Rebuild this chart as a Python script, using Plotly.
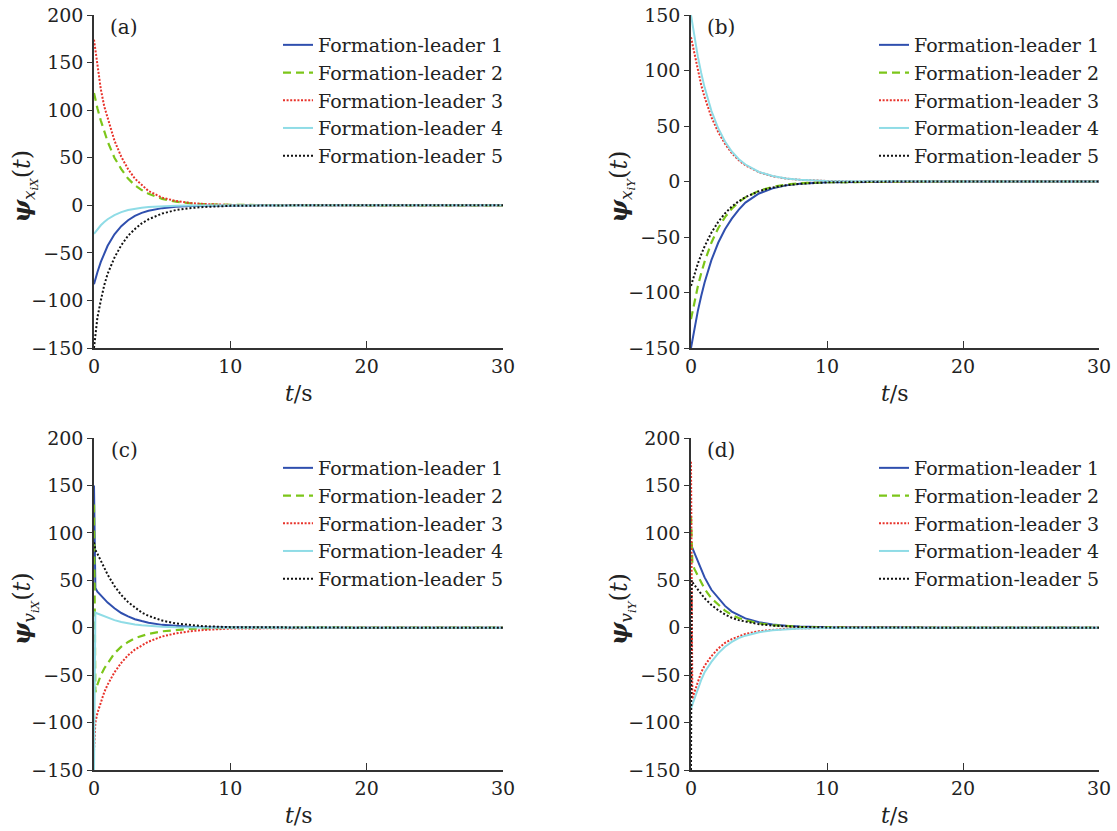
import plotly.graph_objects as go

# ---------------- data ----------------
T_AB = [0, 0.1, 0.25, 0.5, 0.75, 1, 1.5, 2, 2.5, 3, 3.5, 4, 5, 6, 7, 8, 10, 15, 20, 30]
T_CD = [0, 0.05, 0.1, 0.25, 0.5, 0.75, 1, 1.5, 2, 2.5, 3, 3.5, 4, 5, 6, 7, 8, 10, 15, 20, 30]

NAMES = ["Formation-leader 1", "Formation-leader 2", "Formation-leader 3",
         "Formation-leader 4", "Formation-leader 5"]

# panel (a): psi_x_iX
a_l1 = [-83, -77.6, -70.3, -59.5, -50.3, -42.6, -30.5, -21.9, -15.7, -11.2, -8, -5.8, -3, -1.5, -0.8, -0.4, -0.1, 0, 0, 0]
a_l2 = [118, 111, 102, 89, 77, 67, 50, 38, 28, 21, 16, 12, 6.8, 3.8, 2.2, 1.2, 0.4, 0, 0, 0]
a_l3 = [174, 163, 150, 122, 104, 92, 68, 51, 38, 28, 21, 15, 8, 4.5, 2.5, 1.4, 0.4, 0, 0, 0]
a_l4 = [-30, -28, -25, -21, -17.6, -14.7, -10.3, -7.2, -5, -3.5, -2.5, -1.7, -0.8, -0.4, -0.2, -0.1, 0, 0, 0, 0]
a_l5 = [-150, -135, -118, -100, -84, -72, -55, -42, -32, -25, -19, -14.7, -8.7, -5, -3, -1.8, -0.6, 0, 0, 0]

# panel (b): psi_x_iY
b_l1 = [-150, -142.7, -132.4, -116.8, -103.1, -91, -70.9, -55.2, -43, -33.5, -25.5, -19, -10.8, -6.2, -3.5, -2, -0.6, 0, 0, 0]
b_l2 = [-124, -117.5, -108.3, -94.6, -82.6, -72.2, -55.1, -42.1, -32.1, -24.5, -18.7, -14.3, -8.3, -4.9, -2.8, -1.6, -0.6, 0, 0, 0]
b_l3 = [130, 124, 115, 100, 87, 76, 58, 44.5, 34, 25.5, 19.3, 14.6, 8.3, 4.7, 2.6, 1.5, 0.5, 0, 0, 0]
b_l4 = [150, 141.7, 130, 112.7, 97.7, 84.8, 63.7, 47.9, 36, 27, 20.3, 15.3, 8.6, 4.9, 2.7, 1.5, 0.5, 0, 0, 0]
b_l5 = [-94, -89.6, -83.4, -74.1, -65.8, -58.4, -46.1, -36.4, -28.7, -22.6, -17.9, -14.1, -8.7, -5.4, -3.4, -2.1, -0.8, 0, 0, 0]

# panel (c): psi_v_iX
c_l1 = [150, 60, 42, 38, 34, 30, 26.5, 20.5, 15.5, 12, 9, 7, 5.2, 3, 1.7, 1, 0.6, 0.2, 0, 0, 0]
c_l2 = [130, -40, -68, -60, -50, -43, -38, -27, -20, -15, -11, -8.5, -6.5, -3.8, -2.2, -1.3, -0.8, -0.2, 0, 0, 0]
c_l3 = [-130, -115, -100, -90, -78, -68, -60, -47, -37, -29, -23, -18.5, -14.7, -9.2, -6, -3.8, -2.4, -0.9, -0.1, 0, 0]
c_l4 = [-150, 16, 16, 15, 13.5, 12, 10.5, 8, 6, 4.5, 3.3, 2.5, 1.9, 1.1, 0.6, 0.3, 0.2, 0, 0, 0, 0]
c_l5 = [90, 85, 82, 78, 71, 63, 56, 44, 34.5, 27, 21, 16, 12.5, 7.5, 4.5, 2.7, 1.6, 0.6, 0, 0, 0]

# panel (d): psi_v_iY
d_l1 = [87, 86, 84, 79, 70, 61, 53, 40, 31, 23, 17, 13, 9.8, 5.7, 3.4, 2, 1.2, 0.4, 0, 0, 0]
d_l2 = [118, 80, 68, 62, 55, 47, 41, 31, 24, 18, 13.5, 10.3, 8, 4.6, 2.7, 1.6, 0.9, 0.3, 0, 0, 0]
d_l3 = [175, -60, -75, -68, -58, -47, -40, -30, -22, -16, -12, -9, -6.5, -3.6, -2, -1.1, -0.6, -0.2, 0, 0, 0]
d_l4 = [-85, -83, -80, -74, -64, -55, -47, -36, -27, -20, -15, -11, -8.4, -4.8, -2.8, -1.6, -0.9, -0.3, 0, 0, 0]
d_l5 = [-150, 50, 48, 45, 40, 35, 31, 24, 18.5, 14, 10.5, 8, 6.3, 3.7, 2.2, 1.3, 0.8, 0.3, 0, 0, 0]

X_TICKS = [0, 10, 20, 30]
Y_TICKS_ACD = [-150, -100, -50, 0, 50, 100, 150, 200]
Y_TICKS_B = [-150, -100, -50, 0, 50, 100, 150]

# ---------------- styling ----------------
W, H = 1117, 831
FONT = "DejaVu Serif"
STYLES = [
    dict(color="#2f4fae", width=2, dash="solid"),
    dict(color="#7cc61a", width=2.2, dash="8px,5px"),
    dict(color="#e8332b", width=2, dash="2px,1.6px"),
    dict(color="#8fdce6", width=2, dash="solid"),
    dict(color="#111111", width=2, dash="2px,2px"),
]

panels = [
    dict(t=T_AB, ys=[a_l1, a_l2, a_l3, a_l4, a_l5], xd=(94, 503), yd=(15, 348),
         yr=(-150, 200), yt=Y_TICKS_ACD, lab="(a)", sub="x", comp="X"),
    dict(t=T_AB, ys=[b_l1, b_l2, b_l3, b_l4, b_l5], xd=(691, 1099), yd=(15, 348),
         yr=(-150, 150), yt=Y_TICKS_B, lab="(b)", sub="x", comp="Y"),
    dict(t=T_CD, ys=[c_l1, c_l2, c_l3, c_l4, c_l5], xd=(94, 503), yd=(438, 770),
         yr=(-150, 200), yt=Y_TICKS_ACD, lab="(c)", sub="v", comp="X"),
    dict(t=T_CD, ys=[d_l1, d_l2, d_l3, d_l4, d_l5], xd=(691, 1099), yd=(438, 770),
         yr=(-150, 200), yt=Y_TICKS_ACD, lab="(d)", sub="v", comp="Y"),
]

fig = go.Figure()
annotations = []
layout = dict(width=W, height=H, margin=dict(l=0, r=0, t=0, b=0),
              paper_bgcolor="white", plot_bgcolor="white", showlegend=True,
              font=dict(family=FONT, size=19, color="#222"))


def px(x):
    return x / W


def py(y):
    return 1 - y / H


for i, p in enumerate(panels):
    k = "" if i == 0 else str(i + 1)
    leg = "legend" + k
    for j in range(5):
        st = STYLES[j]
        fig.add_trace(go.Scatter(
            x=p["t"], y=p["ys"][j], mode="lines", name=NAMES[j],
            xaxis="x" + k, yaxis="y" + k, legend=leg,
            line=dict(color=st["color"], width=st["width"], dash=st["dash"]),
        ))
    axcommon = dict(showgrid=False, zeroline=False, showline=True, linecolor="#333",
                    linewidth=1.5, tickcolor="#333", tickwidth=1.3,
                    tickfont=dict(family=FONT, size=19, color="#222"), automargin=False,
                    ticklabeloverflow="allow")
    layout["xaxis" + k] = dict(axcommon, domain=[px(p["xd"][0]), px(p["xd"][1])],
                               anchor="y" + k, range=[0, 30], tickvals=X_TICKS,
                               ticks="inside", ticklen=7)
    layout["yaxis" + k] = dict(axcommon, domain=[py(p["yd"][1]), py(p["yd"][0])],
                               anchor="x" + k, range=list(p["yr"]), tickvals=p["yt"],
                               ticktext=[("\u2212" + str(-v)) if v < 0 else str(v) for v in p["yt"]],
                               ticks="outside", ticklen=5)
    layout[leg] = dict(x=px(p["xd"][1] + 6), y=py(p["yd"][0] + 11), xanchor="right", yanchor="top",
                       bgcolor="rgba(0,0,0,0)", borderwidth=0, tracegroupgap=0,
                       font=dict(family=FONT, size=19, color="#222"), itemwidth=30)
    # panel letter
    annotations.append(dict(text=p["lab"], x=px(p["xd"][0] + 30), y=py(p["yd"][0] + 12),
                            xref="paper", yref="paper", showarrow=False,
                            xanchor="center", yanchor="middle",
                            font=dict(family=FONT, size=20, color="#222")))
    # x title
    annotations.append(dict(text="<i>t</i>/s", x=px((p["xd"][0] + p["xd"][1]) / 2),
                            y=py(p["yd"][1] + 45), xref="paper", yref="paper", showarrow=False,
                            xanchor="center", yanchor="middle",
                            font=dict(family=FONT, size=22, color="#222")))
    # y title
    ytxt = ("<b><i>\u03c8</i></b><sub><i>%s</i><sub><i>i%s</i></sub></sub>(<i>t</i>)"
            % (p["sub"], p["comp"]))
    annotations.append(dict(text=ytxt, x=px(p["xd"][0] - 70),
                            y=py((p["yd"][0] + p["yd"][1]) / 2 + 5),
                            xref="paper", yref="paper", showarrow=False, textangle=-90,
                            xanchor="center", yanchor="middle",
                            font=dict(family=FONT, size=24, color="#222")))

layout["annotations"] = annotations
fig.update_layout(**layout)
fig.write_html("out.html", config={"displayModeBar": False},
               post_script="document.body.style.margin='0';document.body.style.overflow='hidden';")
